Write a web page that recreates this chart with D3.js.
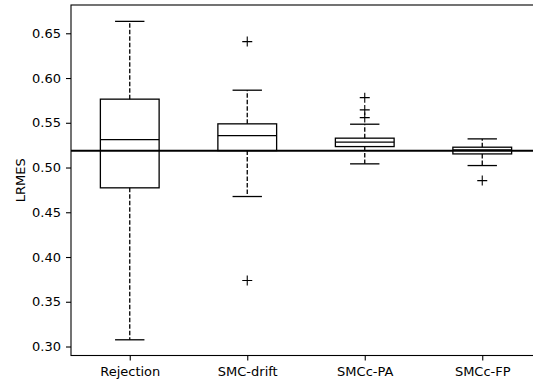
<!DOCTYPE html>
<html>
<head>
<meta charset="utf-8">
<script src="https://cdn.jsdelivr.net/npm/d3@7"></script>
<style>
  body { margin: 0; background: #fff; }
  svg { display: block; }
  text { font-family: "DejaVu Sans", sans-serif; fill: #000; }
</style>
</head>
<body>
<svg id="chart"></svg>
<script>
const categories = ["Rejection", "SMC-drift", "SMCc-PA", "SMCc-FP"];
const whiskLow  = [0.3075, 0.4676, 0.5041, 0.5022];
const q1        = [0.4773, 0.5189, 0.5234, 0.5152];
const median    = [0.5312, 0.5357, 0.5283, 0.5197];
const q3        = [0.5764, 0.5488, 0.5328, 0.5227];
const whiskHigh = [0.6633, 0.5864, 0.5484, 0.5320];
const outliers  = [[], [0.6407, 0.3737], [0.5781, 0.5644, 0.5558], [0.4854]];
const refValue = 0.5186;
const yTicks = [0.30, 0.35, 0.40, 0.45, 0.50, 0.55, 0.60, 0.65];

const width = 533, height = 381;
const mLeft = 71, mRight = 541, mTop = 5, mBottom = 355.5;

const svg = d3.select("#chart")
    .attr("width", width)
    .attr("height", height);

const x = d3.scaleLinear().domain([0.5, 4.5]).range([mLeft, mRight]);
const y = d3.scaleLinear().domain([0.28995, 0.6816]).range([mBottom, mTop]);

const boxes = categories.map((c, i) => ({
    name: c, pos: i + 1,
    lo: whiskLow[i], q1: q1[i], med: median[i], q3: q3[i], hi: whiskHigh[i],
    out: outliers[i]
}));

const lw = 1.3;
const boxW = 0.25, capW = 0.125;

const g = svg.append("g");

// whiskers (dashed)
g.selectAll("line.whisk-lo").data(boxes).enter().append("line")
    .attr("x1", d => x(d.pos)).attr("x2", d => x(d.pos))
    .attr("y1", d => y(d.q1)).attr("y2", d => y(d.lo))
    .attr("stroke", "#000").attr("stroke-width", lw).attr("stroke-dasharray", "4.5,2");
g.selectAll("line.whisk-hi").data(boxes).enter().append("line")
    .attr("x1", d => x(d.pos)).attr("x2", d => x(d.pos))
    .attr("y1", d => y(d.q3)).attr("y2", d => y(d.hi))
    .attr("stroke", "#000").attr("stroke-width", lw).attr("stroke-dasharray", "4.5,2");

// caps
["lo", "hi"].forEach(k => {
    g.selectAll("line.cap-" + k).data(boxes).enter().append("line")
        .attr("x1", d => x(d.pos - capW)).attr("x2", d => x(d.pos + capW))
        .attr("y1", d => y(d[k])).attr("y2", d => y(d[k]))
        .attr("stroke", "#000").attr("stroke-width", lw);
});

// boxes
g.selectAll("rect.box").data(boxes).enter().append("rect")
    .attr("x", d => x(d.pos - boxW))
    .attr("width", d => x(d.pos + boxW) - x(d.pos - boxW))
    .attr("y", d => y(d.q3))
    .attr("height", d => y(d.q1) - y(d.q3))
    .attr("fill", "none").attr("stroke", "#000").attr("stroke-width", lw);

// medians
g.selectAll("line.med").data(boxes).enter().append("line")
    .attr("x1", d => x(d.pos - boxW)).attr("x2", d => x(d.pos + boxW))
    .attr("y1", d => y(d.med)).attr("y2", d => y(d.med))
    .attr("stroke", "#000").attr("stroke-width", lw);

// fliers
const fl = boxes.flatMap(d => d.out.map(v => ({ pos: d.pos, v: v })));
g.selectAll("path.flier").data(fl).enter().append("path")
    .attr("d", d => {
        const cx = x(d.pos), cy = y(d.v), r = 5;
        return `M${cx - r},${cy}H${cx + r}M${cx},${cy - r}V${cy + r}`;
    })
    .attr("stroke", "#000").attr("stroke-width", 1.1);

// reference line
g.append("line")
    .attr("x1", mLeft).attr("x2", width)
    .attr("y1", y(refValue)).attr("y2", y(refValue))
    .attr("stroke", "#000").attr("stroke-width", 2);

// axes
const yAxis = d3.axisLeft(y).tickValues(yTicks).tickFormat(d3.format(".2f")).tickSize(5).tickPadding(5);
const xAxis = d3.axisBottom(x).tickValues(boxes.map(d => d.pos))
    .tickFormat((d, i) => categories[i]).tickSize(5).tickPadding(6);

const ya = svg.append("g").attr("transform", `translate(${mLeft},0)`).call(yAxis);
const xa = svg.append("g").attr("transform", `translate(0,${mBottom})`).call(xAxis);
[ya, xa].forEach(a => {
    a.select(".domain").remove();
    a.selectAll("line").attr("stroke", "#000").attr("stroke-width", 1.1);
    a.selectAll("text").style("font-size", "13px").attr("fill", "#000");
});

// frame
svg.append("rect")
    .attr("x", mLeft).attr("y", mTop)
    .attr("width", mRight - mLeft).attr("height", mBottom - mTop)
    .attr("fill", "none").attr("stroke", "#000").attr("stroke-width", 1.1);

svg.append("text")
    .attr("transform", `translate(24.5,${(mTop + mBottom) / 2}) rotate(-90)`)
    .attr("text-anchor", "middle")
    .style("font-size", "13px")
    .text("LRMES");
</script>
</body>
</html>
